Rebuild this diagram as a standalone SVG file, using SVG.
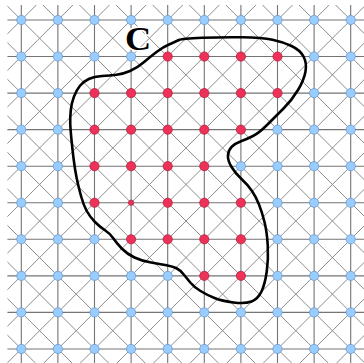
<svg xmlns="http://www.w3.org/2000/svg" width="364" height="363" viewBox="0 0 364 363">
<style>
.hv{fill:none;stroke:#747474;stroke-width:1.1}
.dg{fill:none;stroke:#8c8c8c;stroke-width:1}
.b{fill:#99ccff;stroke:#6b9bd0;stroke-width:0.8}
.r{fill:#ee3158;stroke:#b5203f;stroke-width:0.8}
.curve{fill:none;stroke:#000;stroke-width:2.6;stroke-linejoin:round}
.lbl{font-family:"Liberation Serif","Times New Roman",serif;font-weight:bold;font-size:33px;fill:#000;stroke:#fff;stroke-width:3;paint-order:stroke;stroke-linejoin:round}
</style>
<defs>
<clipPath id="gc" clipPathUnits="userSpaceOnUse"><rect x="-0.38" y="-0.41" width="9.8" height="9.85"/></clipPath>
</defs>
<rect width="364" height="363" fill="#fff"/>
<g id="connectors" transform="translate(21.3 20) scale(36.6 36.55)">
<g clip-path="url(#gc)">
<path class="dg" vector-effect="non-scaling-stroke" d="M-1,-10L11,2M-1,-9L11,3M-1,-8L11,4M-1,-7L11,5M-1,-6L11,6M-1,-5L11,7M-1,-4L11,8M-1,-3L11,9M-1,-2L11,10M-1,-1L11,11M-1,0L11,12M-1,1L11,13M-1,2L11,14M-1,3L11,15M-1,4L11,16M-1,5L11,17M-1,6L11,18M-1,7L11,19M-1,8L11,20"/>
<path class="dg" vector-effect="non-scaling-stroke" d="M-1,1L1,-1M-1,2L2,-1M-1,3L3,-1M-1,4L4,-1M-1,5L5,-1M-1,6L6,-1M-1,7L7,-1M-1,8L8,-1M-1,9L9,-1M-1,10L10,-1M-1,11L11,-1M-1,12L12,-1M-1,13L13,-1M-1,14L14,-1M-1,15L15,-1M-1,16L16,-1M-1,17L17,-1M-1,18L18,-1M-1,19L19,-1"/>
<path class="hv" vector-effect="non-scaling-stroke" d="M-1,0H11M-1,1H11M-1,2H11M-1,3H11M-1,4H11M-1,5H11M-1,6H11M-1,7H11M-1,8H11M-1,9H11M0,-1V11M1,-1V11M2,-1V11M3,-1V11M4,-1V11M5,-1V11M6,-1V11M7,-1V11M8,-1V11M9,-1V11"/>
</g>
</g>
<g id="nodes">
<g id="row0">
<circle class="b" cx="21.3" cy="20" r="4.6"/><circle class="b" cx="57.9" cy="20" r="4.6"/><circle class="b" cx="94.5" cy="20" r="4.6"/><circle class="b" cx="131.1" cy="20" r="4.6"/><circle class="b" cx="167.7" cy="20" r="4.6"/><circle class="b" cx="204.3" cy="20" r="4.6"/><circle class="b" cx="240.9" cy="20" r="4.6"/><circle class="b" cx="277.5" cy="20" r="4.6"/><circle class="b" cx="314.1" cy="20" r="4.6"/><circle class="b" cx="350.7" cy="20" r="4.6"/>
</g>
<g id="row1">
<circle class="b" cx="21.3" cy="56.55" r="4.6"/><circle class="b" cx="57.9" cy="56.55" r="4.6"/><circle class="b" cx="94.5" cy="56.55" r="4.6"/><circle class="b" cx="131.1" cy="56.55" r="4.6"/><circle class="r" cx="167.7" cy="56.55" r="4.6"/><circle class="r" cx="204.3" cy="56.55" r="4.6"/><circle class="r" cx="240.9" cy="56.55" r="4.6"/><circle class="r" cx="277.5" cy="56.55" r="4.6"/><circle class="b" cx="314.1" cy="56.55" r="4.6"/><circle class="b" cx="350.7" cy="56.55" r="4.6"/>
</g>
<g id="row2">
<circle class="b" cx="21.3" cy="93.1" r="4.6"/><circle class="b" cx="57.9" cy="93.1" r="4.6"/><circle class="r" cx="94.5" cy="93.1" r="4.6"/><circle class="r" cx="131.1" cy="93.1" r="4.6"/><circle class="r" cx="167.7" cy="93.1" r="4.6"/><circle class="r" cx="204.3" cy="93.1" r="4.6"/><circle class="r" cx="240.9" cy="93.1" r="4.6"/><circle class="r" cx="277.5" cy="93.1" r="4.6"/><circle class="b" cx="314.1" cy="93.1" r="4.6"/><circle class="b" cx="350.7" cy="93.1" r="4.6"/>
</g>
<g id="row3">
<circle class="b" cx="21.3" cy="129.65" r="4.6"/><circle class="b" cx="57.9" cy="129.65" r="4.6"/><circle class="r" cx="94.5" cy="129.65" r="4.6"/><circle class="r" cx="131.1" cy="129.65" r="4.6"/><circle class="r" cx="167.7" cy="129.65" r="4.6"/><circle class="r" cx="204.3" cy="129.65" r="4.6"/><circle class="r" cx="240.9" cy="129.65" r="4.6"/><circle class="b" cx="277.5" cy="129.65" r="4.6"/><circle class="b" cx="314.1" cy="129.65" r="4.6"/><circle class="b" cx="350.7" cy="129.65" r="4.6"/>
</g>
<g id="row4">
<circle class="b" cx="21.3" cy="166.2" r="4.6"/><circle class="b" cx="57.9" cy="166.2" r="4.6"/><circle class="r" cx="94.5" cy="166.2" r="4.6"/><circle class="r" cx="131.1" cy="166.2" r="4.6"/><circle class="r" cx="167.7" cy="166.2" r="4.6"/><circle class="r" cx="204.3" cy="166.2" r="4.6"/><circle class="b" cx="240.9" cy="166.2" r="4.6"/><circle class="b" cx="277.5" cy="166.2" r="4.6"/><circle class="b" cx="314.1" cy="166.2" r="4.6"/><circle class="b" cx="350.7" cy="166.2" r="4.6"/>
</g>
<g id="row5">
<circle class="b" cx="21.3" cy="202.75" r="4.6"/><circle class="b" cx="57.9" cy="202.75" r="4.6"/><circle class="r" cx="94.5" cy="202.75" r="4.6"/><circle class="r" cx="131.1" cy="202.75" r="2.6"/><circle class="r" cx="167.7" cy="202.75" r="4.6"/><circle class="r" cx="204.3" cy="202.75" r="4.6"/><circle class="r" cx="240.9" cy="202.75" r="4.6"/><circle class="b" cx="277.5" cy="202.75" r="4.6"/><circle class="b" cx="314.1" cy="202.75" r="4.6"/><circle class="b" cx="350.7" cy="202.75" r="4.6"/>
</g>
<g id="row6">
<circle class="b" cx="21.3" cy="239.3" r="4.6"/><circle class="b" cx="57.9" cy="239.3" r="4.6"/><circle class="b" cx="94.5" cy="239.3" r="4.6"/><circle class="r" cx="131.1" cy="239.3" r="4.6"/><circle class="r" cx="167.7" cy="239.3" r="4.6"/><circle class="r" cx="204.3" cy="239.3" r="4.6"/><circle class="r" cx="240.9" cy="239.3" r="4.6"/><circle class="b" cx="277.5" cy="239.3" r="4.6"/><circle class="b" cx="314.1" cy="239.3" r="4.6"/><circle class="b" cx="350.7" cy="239.3" r="4.6"/>
</g>
<g id="row7">
<circle class="b" cx="21.3" cy="275.85" r="4.6"/><circle class="b" cx="57.9" cy="275.85" r="4.6"/><circle class="b" cx="94.5" cy="275.85" r="4.6"/><circle class="b" cx="131.1" cy="275.85" r="4.6"/><circle class="b" cx="167.7" cy="275.85" r="4.6"/><circle class="r" cx="204.3" cy="275.85" r="4.6"/><circle class="r" cx="240.9" cy="275.85" r="4.6"/><circle class="b" cx="277.5" cy="275.85" r="4.6"/><circle class="b" cx="314.1" cy="275.85" r="4.6"/><circle class="b" cx="350.7" cy="275.85" r="4.6"/>
</g>
<g id="row8">
<circle class="b" cx="21.3" cy="312.4" r="4.6"/><circle class="b" cx="57.9" cy="312.4" r="4.6"/><circle class="b" cx="94.5" cy="312.4" r="4.6"/><circle class="b" cx="131.1" cy="312.4" r="4.6"/><circle class="b" cx="167.7" cy="312.4" r="4.6"/><circle class="b" cx="204.3" cy="312.4" r="4.6"/><circle class="b" cx="240.9" cy="312.4" r="4.6"/><circle class="b" cx="277.5" cy="312.4" r="4.6"/><circle class="b" cx="314.1" cy="312.4" r="4.6"/><circle class="b" cx="350.7" cy="312.4" r="4.6"/>
</g>
<g id="row9">
<circle class="b" cx="21.3" cy="348.95" r="4.6"/><circle class="b" cx="57.9" cy="348.95" r="4.6"/><circle class="b" cx="94.5" cy="348.95" r="4.6"/><circle class="b" cx="131.1" cy="348.95" r="4.6"/><circle class="b" cx="167.7" cy="348.95" r="4.6"/><circle class="b" cx="204.3" cy="348.95" r="4.6"/><circle class="b" cx="240.9" cy="348.95" r="4.6"/><circle class="b" cx="277.5" cy="348.95" r="4.6"/><circle class="b" cx="314.1" cy="348.95" r="4.6"/><circle class="b" cx="350.7" cy="348.95" r="4.6"/>
</g>
</g>
<g id="curve-C">
<path class="curve" d="M179,40 Q182,38.5 202,37.75 Q222,37 242,37.25 Q262,37.5 272.5,39.75 Q283,42 291.5,46 Q300,50 303.5,56.5 Q307,63 305.5,71.5 Q304,80 298,90 Q292,100 283.5,108.5 Q275,117 267,125 Q259,133 253,136 Q247,139 241,141.25 Q235,143.5 231.75,146.75 Q228.5,150 228,155 Q227.5,160 231.25,166.5 Q235,173 241.5,179 Q248,185 252,191 Q256,197 259,204.5 Q262,212 264.5,222 Q267,232 267.75,245.5 Q268.5,259 266.75,271.5 Q265,284 261.5,291.5 Q258,299 251.5,301.5 Q245,304 233.5,302.5 Q222,301 214.5,298 Q207,295 200.5,291 Q194,287 190.5,282.75 Q187,278.5 183.5,274.25 Q180,270 176.5,268.25 Q173,266.5 166.5,265.25 Q160,264 151,262.5 Q142,261 134.5,257.5 Q127,254 121.75,248.5 Q116.5,243 113.25,238.25 Q110,233.5 105,230.25 Q100,227 95,222 Q90,217 86.75,211 Q83.5,205 81,196 Q78.5,187 76.75,178.5 Q75,170 73.75,160 Q72.5,150 71.5,140 Q70.5,130 70.25,124 Q70,118 70.75,110.5 Q71.5,103 74,96.5 Q76.5,90 80,85.75 Q83.5,81.5 88.75,79 Q94,76.5 102,76 Q110,75.5 116.5,74.75 Q123,74 130,71 Q137,68 143.5,62.5 Q150,57 156.5,52 Q163,47 169.5,44.25 Q176,41.5 179,40 Z"/>
<text class="lbl" x="125" y="50" transform="translate(125 50) scale(1.1 1) translate(-125 -50)">C</text>
</g>
</svg>
